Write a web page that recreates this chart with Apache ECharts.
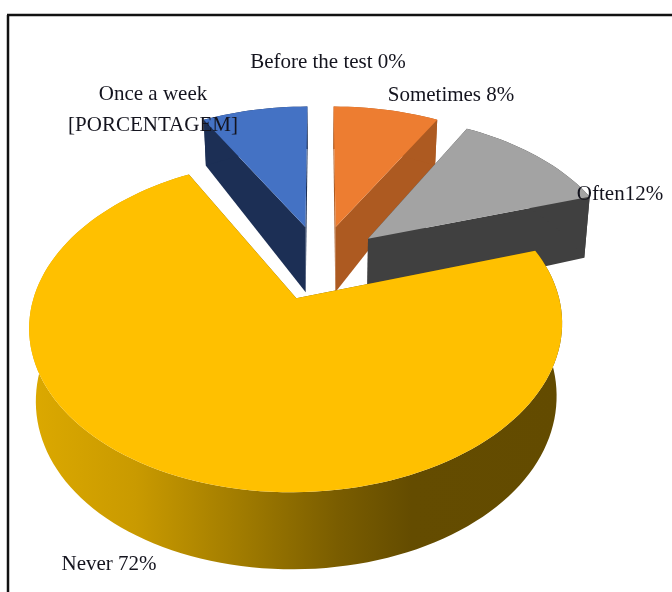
<!DOCTYPE html>
<html>
<head>
<meta charset="utf-8">
<style>html,body{margin:0;padding:0;background:#fff}#chart{width:672px;height:592px}</style>
<script src="https://cdn.jsdelivr.net/npm/echarts@6/dist/echarts.min.js"></script>
</head>
<body>
<div id="chart"></div>
<script>
// Answers, in clockwise order from twelve o'clock, with their percentages.
const categories = ['Before the test', 'Sometimes', 'Often', 'Never', 'Once a week'];
const shares = [0, 8, 12, 72, 8];
const labelTexts = ['Before the test 0%', 'Sometimes 8%', 'Often12%', 'Never 72%', 'Once a week\n[PORCENTAGEM]'];

// Slice colours: top face and the darker side faces.
const topColors = ['#5B9BD5', '#ED7D31', '#A3A3A3', '#FFC000', '#4472C4'];
const sideColors = ['#2A5A8A', '#AD5A21', '#404040', '#6A5000', '#1C2F55'];

// Where each label sits on the page.
const labelPlaces = {
  'Before the test': { x: 328, y: 62, align: 'center' },
  'Sometimes': { x: 451, y: 95, align: 'center' },
  'Often': { x: 620, y: 194, align: 'center' },
  'Never': { x: 109, y: 564, align: 'center' },
  'Once a week': { x: 153, y: 110, align: 'center' }
};

// Perspective camera for the tilted pie; the wall height thins toward the back.
const camera = { ox: 320.5, oy: 262, a: 253, b: 150, k: 0.16, shrink: 0.022 };
const wallHeight = { base: 69, slope: 13.9, curve: 6 };
const explode = 0.25;
const arcStep = 2;

// Projects a point of the pie's plane (h = 0 top face, h = 1 bottom face) to the page.
function project(u, v, h) {
  const w = 1 - camera.k * v;
  const drop = wallHeight.base + wallHeight.slope * v - wallHeight.curve * v * v;
  return [
    camera.ox + camera.a * u / (w + camera.shrink * h),
    camera.oy + camera.b * v / w + drop * h
  ];
}

const total = shares.reduce((s, x) => s + x, 0);
const starts = [];
shares.reduce((sum, x, i) => { starts[i] = sum; return sum + x; }, 0);

function renderSlice(params, api) {
  const i = api.value(0);
  const share = shares[i];
  if (!share) return { type: 'group', children: [] };

  const from = starts[i] / total * 2 * Math.PI;
  const to = (starts[i] + share) / total * 2 * Math.PI;
  const mid = (from + to) / 2;
  const cu = explode * Math.sin(mid);
  const cv = -explode * Math.cos(mid);

  const at = (angle, h) => project(cu + Math.sin(angle), cv - Math.cos(angle), h);
  const apex = h => project(cu, cv, h);

  const arc = [];
  const steps = Math.ceil((to - from) / (arcStep * Math.PI / 180));
  for (let s = 0; s <= steps; s++) arc.push(from + (to - from) * s / steps);

  const topFace = [apex(0), ...arc.map(a => at(a, 0))];
  const wall = [...arc.map(a => at(a, 0)), ...arc.slice().reverse().map(a => at(a, 1))];
  const cut = a => [apex(0), at(a, 0), at(a, 1), apex(1)];

  const wallFill = categories[i] === 'Never'
    ? {
        type: 'linear', x: 30, y: 0, x2: 560, y2: 0, global: true,
        colorStops: [
          { offset: 0, color: '#DCA900' },
          { offset: 0.2, color: '#C99A00' },
          { offset: 0.4, color: '#A07B00' },
          { offset: 0.58, color: '#7A5D00' },
          { offset: 0.72, color: '#644C00' },
          { offset: 1, color: '#634B00' }
        ]
      }
    : sideColors[i];

  const poly = (points, fill) => ({
    type: 'polygon', shape: { points }, style: { fill }, silent: true
  });

  return {
    type: 'group',
    children: [
      poly(cut(from), sideColors[i]),
      poly(cut(to), sideColors[i]),
      poly(wall, wallFill),
      poly(topFace, topColors[i])
    ]
  };
}

function renderLabel(params, api) {
  const i = api.value(0);
  const place = labelPlaces[categories[i]];
  return {
    type: 'text',
    silent: true,
    style: {
      text: labelTexts[i],
      x: place.x,
      y: place.y,
      align: place.align,
      verticalAlign: 'middle',
      font: '21px "Liberation Serif"',
      lineHeight: 31,
      fill: '#14141E'
    }
  };
}

const rows = categories.map((name, i) => [i, shares[i], name]);
const chart = echarts.init(document.getElementById('chart'), null, { renderer: 'canvas' });
chart.setOption({
  animation: false,
  backgroundColor: '#ffffff',
  tooltip: { show: false },
  graphic: [
    { type: 'line', silent: true, shape: { x1: 7, y1: 15, x2: 672, y2: 15 }, style: { stroke: '#111', lineWidth: 2.5 } },
    { type: 'line', silent: true, shape: { x1: 8, y1: 15, x2: 8, y2: 592 }, style: { stroke: '#111', lineWidth: 2.5 } }
  ],
  series: [
    { type: 'custom', coordinateSystem: 'none', renderItem: renderSlice, data: rows, z: 2 },
    { type: 'custom', coordinateSystem: 'none', renderItem: renderLabel, data: rows, z: 3 }
  ]
});
</script>
</body>
</html>
